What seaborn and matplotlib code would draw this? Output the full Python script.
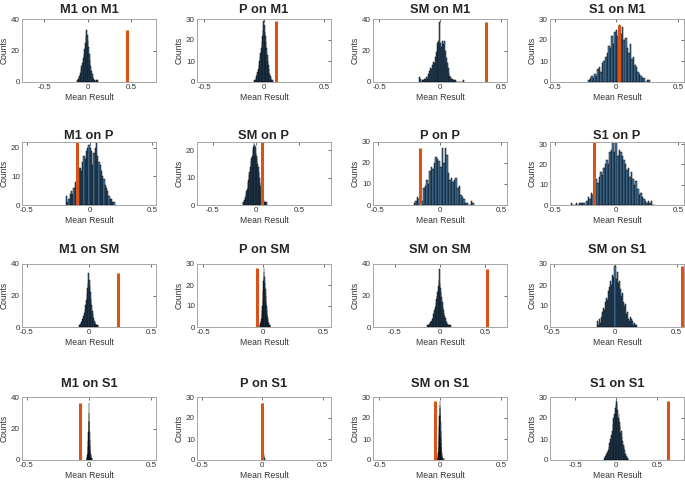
import numpy as np
import pandas as pd
import matplotlib
matplotlib.use("Agg")
import matplotlib.pyplot as plt
import seaborn as sns

# ------------------------------------------
# Data (bin counts per panel)
# ------------------------------------------
titles = ["M1 on M1", "P on M1", "SM on M1", "S1 on M1",
          "M1 on P", "SM on P", "P on P", "S1 on P",
          "M1 on SM", "P on SM", "SM on SM", "SM on S1",
          "M1 on S1", "P on S1", "SM on S1", "S1 on S1"]

bin_start = [-0.12, -0.08, -0.17, -0.23,
             -0.19, -0.15, -0.21, -0.37,
             -0.08, -0.03, -0.14, -0.15,
             -0.018, -0.005, -0.02, -0.15]
bin_width = [0.008, 0.005, 0.0075, 0.0125,
             0.01, 0.007, 0.0125, 0.0125,
             0.005, 0.003, 0.0065, 0.0085,
             0.0018, 0.001, 0.0017, 0.0075]

c_m1_m1 = [1, 2, 3, 4, 6, 8, 10, 12, 15, 18, 21, 25, 29, 33, 30, 26, 22, 18, 14, 10,
           7, 5, 3, 2, 1, 1, 0, 1, 0, 1]
c_p_m1 = [1, 1, 2, 3, 4, 5, 6, 8, 10, 12, 14, 16, 19, 22, 25, 29, 27, 24, 22, 19,
          16, 13, 10, 8, 6, 4, 3, 2, 1, 1, 1, 0]
c_sm_m1 = [3, 2, 0, 1, 1, 2, 2, 3, 2, 4, 5, 7, 9, 8, 11, 13, 12, 16, 19, 25,
           22, 26, 38, 25, 22, 26, 24, 26, 20, 15, 12, 9, 6, 4, 3, 2, 2, 1, 1, 1,
           0, 0, 0, 0, 0, 0, 0, 0, 1]
c_s1_m1 = [1, 2, 3, 2, 4, 3, 6, 7, 5, 9, 10, 12, 14, 17, 16, 22, 18, 24, 25, 22,
           27, 23, 26, 20, 21, 16, 14, 18, 11, 12, 8, 7, 5, 4, 3, 2, 2, 0, 1, 1]
c_m1_p = [3, 1, 2, 4, 5, 4, 6, 8, 7, 12, 13, 13, 12, 15, 17, 16, 19, 20, 21, 20,
          19, 14, 18, 20, 22, 17, 15, 14, 12, 10, 9, 7, 6, 5, 3, 2, 2, 1, 1]
c_sm_p = [1, 1, 2, 2, 3, 4, 5, 6, 8, 9, 11, 12, 14, 16, 17, 18, 20, 21, 23, 22,
          21, 19, 18, 17, 15, 14, 12, 10, 8, 7, 5, 4, 3, 2, 2, 1, 1, 1, 0, 1]
c_p_p = [1, 2, 4, 3, 5, 2, 8, 9, 12, 10, 16, 18, 17, 20, 23, 22, 21, 18, 27, 20,
         27, 24, 15, 12, 13, 11, 12, 13, 8, 9, 5, 4, 3, 1, 1, 0, 0, 2, 1]
c_s1_p = [1, 0, 0, 1, 0, 1, 1, 1, 1, 0, 2, 4, 3, 6, 5, 10, 13, 11, 14, 16,
          15, 18, 20, 22, 20, 26, 27, 31, 26, 31, 24, 27, 26, 24, 22, 20, 17, 18, 14, 16,
          13, 10, 12, 8, 5, 6, 4, 3, 2, 1, 2, 1, 2, 0, 0]
c_m1_sm = [1, 1, 2, 3, 4, 5, 5, 7, 9, 11, 14, 17, 21, 25, 28, 34, 30, 26, 22, 18,
           14, 10, 8, 6, 4, 3, 2, 2, 1, 1, 1, 0]
c_p_sm = [1, 1, 2, 3, 4, 6, 8, 10, 13, 17, 22, 28, 26, 24, 21, 18, 15, 12, 10, 8,
          6, 5, 4, 3, 2, 2, 1, 1, 1, 0]
c_sm_sm = [1, 1, 1, 2, 2, 3, 3, 4, 5, 6, 8, 9, 11, 13, 15, 18, 20, 22, 26, 30,
           37, 28, 25, 22, 19, 16, 13, 11, 9, 7, 6, 4, 3, 2, 2, 1, 1, 1, 0, 1]
c_sm_s1 = [3, 1, 4, 2, 5, 7, 9, 8, 12, 14, 13, 17, 19, 22, 20, 25, 24, 29, 23, 26,
           21, 22, 18, 15, 16, 12, 10, 11, 6, 7, 4, 3, 5, 4, 3, 1, 2, 1, 1]
c_m1_s1 = [1, 1, 2, 3, 5, 8, 12, 18, 25, 36, 30, 24, 18, 13, 9, 6, 4, 3, 2, 1,
           1, 1, 0, 0, 1]
c_p_s1 = [1, 2, 3, 5, 8, 12, 17, 22, 27, 24, 19, 14, 10, 7, 5, 3, 2, 1, 1, 1,
          0, 0, 0, 0, 1]
c_sm_s1b = [1, 1, 2, 3, 4, 6, 9, 12, 16, 21, 25, 28, 26, 22, 18, 14, 11, 8, 6, 4,
            3, 2, 1, 1, 1, 0, 0, 0, 0, 1]
c_s1_s1 = [1, 1, 2, 2, 3, 4, 3, 5, 6, 8, 10, 9, 12, 14, 17, 20, 18, 22, 25, 26,
           28, 27, 24, 20, 22, 18, 16, 13, 14, 11, 9, 7, 6, 5, 3, 3, 2, 1, 1, 1]

counts = [c_m1_m1, c_p_m1, c_sm_m1, c_s1_m1,
          c_m1_p, c_sm_p, c_p_p, c_s1_p,
          c_m1_sm, c_p_sm, c_sm_sm, c_sm_s1,
          c_m1_s1, c_p_s1, c_sm_s1b, c_s1_s1]

# observed result (orange bar) and its drawn height
actual_x = [0.46, 0.10, 0.375, 0.02,
            -0.10, 0.07, -0.16, -0.18,
            0.23, -0.05, 0.52, 0.545,
            -0.07, 0.0, -0.04, 0.64]
actual_h = [33, 29, 38, 27,
            22, 23, 27, 31,
            34, 28, 37, 29,
            36, 27, 28, 28]

x_limits = [(-0.76, 0.79), (-0.56, 0.56), (-0.55, 0.55), (-0.54, 0.55),
            (-0.54, 0.53), (-0.68, 0.87), (-0.54, 0.545), (-0.54, 0.55),
            (-0.54, 0.54), (-0.55, 0.56), (-0.74, 0.74), (-0.53, 0.56),
            (-0.54, 0.54), (-0.54, 0.57), (-0.55, 0.55), (-0.81, 0.83)]
y_top = [40, 30, 40, 30,
         22, 23, 30, 31,
         40, 30, 40, 30,
         40, 30, 30, 30]

# ------------------------------------------
# Figure
# ------------------------------------------
sns.set_theme(style="white")
plt.rcParams['font.family'] = ['Liberation Sans', 'DejaVu Sans']

W, H = 685, 483
fig = plt.figure(figsize=(W / 100, H / 100), dpi=100)

col_left = [22, 197, 373, 550]
row_top = [19, 142, 264, 397]
row_pad = [4.3, 2.3, 8, 7.3]
ax_w, ax_h = 134, 63

for i in range(16):
    r, c = divmod(i, 4)
    ax = fig.add_axes([col_left[c] / W, 1 - (row_top[r] + ax_h) / H, ax_w / W, ax_h / H])
    n = len(counts[i])
    lo = bin_start[i]
    hi = bin_start[i] + bin_width[i] * n
    centers = lo + bin_width[i] * (np.arange(n) + 0.5)
    df = pd.DataFrame({'center': centers,
                       'count': np.asarray(counts[i], dtype=float)})
    sns.histplot(data=df, x='center', weights='count', bins=n, binrange=(lo, hi),
                 ax=ax, color='#4a82b0', edgecolor='#000000', linewidth=0.35,
                 alpha=1.0)
    ax.plot([actual_x[i], actual_x[i]], [0, actual_h[i]], color='#D95319', lw=2.2,
            solid_capstyle='butt')

    ax.set_xticks([-0.5, 0, 0.5])
    ax.set_xticklabels(['-0.5', '0', '0.5'])
    ax.set_yticks([0, 20, 40] if y_top[i] >= 40 else [0, 10, 20, 30])
    ax.set_xlim(*x_limits[i])
    ax.set_ylim(0, y_top[i])
    ax.tick_params(direction='in', top=True, right=True, length=2, width=0.5,
                   labelsize=5.8, colors='#333333', pad=1.5)
    for s in ax.spines.values():
        s.set_color('#a6a6a6')
        s.set_linewidth(0.7)
    ax.set_xlabel('Mean Result', fontsize=6.2, color='#333333', labelpad=1.5)
    ax.set_ylabel('Counts', fontsize=6.2, color='#333333', labelpad=1.5)
    ax.set_title(titles[i], fontsize=9.3, fontweight='bold', pad=row_pad[r])

fig.savefig('out.png', dpi=100)
